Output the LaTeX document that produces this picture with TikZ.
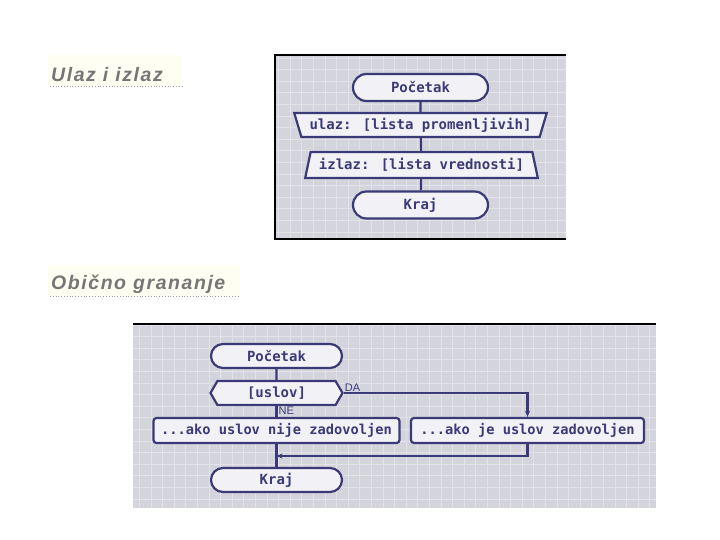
\documentclass[tikz,border=0pt]{standalone}
\usepackage{fontspec}
\usepackage{tikz}
\usetikzlibrary{shapes.misc, shapes.geometric, shapes.symbols, arrows.meta}
\newfontfamily\flowfont{DejaVu Sans Mono}
\newfontfamily\headfont[LetterSpace=8]{Liberation Sans}
\newfontfamily\labfont{Liberation Sans}
\definecolor{navy}{HTML}{3A3A78}
\definecolor{panelbg}{HTML}{D4D4DC}
\definecolor{gridln}{HTML}{E2E2E8}
\definecolor{boxfill}{HTML}{F2F2F6}
\definecolor{headgray}{HTML}{767676}
\definecolor{headbg}{HTML}{FFFEF2}

\begin{document}
\begin{tikzpicture}[x=1pt,y=-1pt]

    \tikzset{
      flow/.style={draw=navy, line width=2.2pt, fill=boxfill, inner sep=0pt, text=navy,
        font=\flowfont\bfseries\fontsize{14}{16}\selectfont},
      term/.style={flow, rounded rectangle, minimum width=135pt, minimum height=27pt},
      inbox/.style={flow, trapezium, shape border rotate=180, trapezium stretches=true,
        trapezium left angle=65, trapezium right angle=65, minimum width=253pt, minimum height=24pt},
      outbox/.style={flow, trapezium, trapezium stretches=true,
        trapezium left angle=69, trapezium right angle=69, minimum width=233pt, minimum height=26pt},
      cond/.style={flow, signal, signal to=west and east, signal pointer angle=120,
        minimum width=132pt, minimum height=24pt},
      proc/.style={flow, rectangle, rounded corners=3pt, minimum height=25pt,
        font=\flowfont\bfseries\fontsize{13.7}{16}\selectfont},
      link/.style={draw=navy, line width=2.2pt},
      lab/.style={text=navy, inner sep=1pt, font=\labfont\fontsize{11}{12}\selectfont},
      heading/.style={anchor=base west, inner sep=0pt, text=headgray,
        font=\headfont\bfseries\itshape\fontsize{19.5}{22}\selectfont}
    }
    \useasboundingbox (0,0) rectangle (720,540);

    % headings
    \fill[headbg] (48,55) rectangle (182,86);
    \node[heading] (h1) at (51,82) {Ulaz i izlaz};
    \draw[headgray!70, dotted, line width=0.8pt] (50,86.5) -- (182,86.5);

    \fill[headbg] (48,265) rectangle (240,296);
    \node[heading] (h2) at (51,289) {Obično grananje};
    \draw[headgray!70, dotted, line width=0.8pt] (50,296.5) -- (240,296.5);

    % grid panels
    \fill[panelbg] (275,55) rectangle (566,239);
    \draw[gridln, line width=0.6pt, step=11.6pt] (275,55) grid (566,239);
    \draw[black, line width=1.4pt] (566,55) -- (275,55) -- (275,239) -- (566,239);

    \fill[panelbg] (133,324) rectangle (656,508);
    \draw[gridln, line width=0.6pt, step=11.6pt] (133,324) grid (656,508);
    \draw[black, line width=1.4pt] (133,324) -- (656,324);

    % ulaz i izlaz
    \node[term] (start1) at (420.5,87.5) {Početak};
    \node[inbox] (in1) at (420.5,125) {ulaz: [lista promenljivih]};
    \node[outbox] (out1) at (421.5,165) {izlaz: [lista vrednosti]};
    \node[term] (end1) at (420.5,205) {Kraj};

    \draw[link] (start1) -- (in1);
    \draw[link] (in1) -- (out1);
    \draw[link] (out1) -- (end1);

    % obicno grananje
    \node[term, minimum width=131pt, minimum height=24pt] (start2) at (276.5,356) {Početak};
    \node[cond] (uslov) at (276.5,393) {[uslov]};
    \node[proc, minimum width=246pt] (ne) at (276.5,430.5) {...ako uslov nije zadovoljen};
    \node[proc, minimum width=233pt] (da) at (527.5,430.5) {...ako je uslov zadovoljen};
    \node[term, minimum width=131pt, minimum height=24pt] (end2) at (276.5,480) {Kraj};
    \coordinate (spoj) at (276.5,456);

    \draw[link] (start2) -- (uslov);
    \draw[link, -{Stealth[length=6pt,width=5pt]}] (uslov.east) -| (da.north);
    \draw[link] (uslov.south) -- (ne.north);
    \draw[link] (ne.south) -- (end2.north);
    \draw[link, -{Stealth[length=6pt,width=5pt]}] (da.south) |- (spoj);

    \node[lab, anchor=south west] (lda) at (uslov.east) {DA};
    \node[lab, anchor=north west] (lne) at ([xshift=1pt]uslov.south) {NE};

\end{tikzpicture}
\end{document}
